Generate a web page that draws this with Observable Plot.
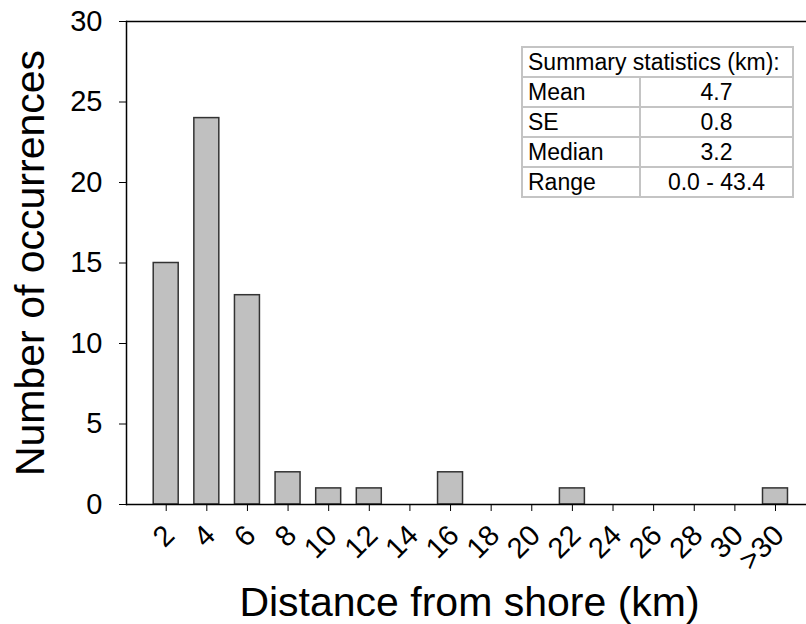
<!DOCTYPE html>
<html><head><meta charset="utf-8">
<script src="https://cdn.jsdelivr.net/npm/d3@7"></script>
<script src="https://cdn.jsdelivr.net/npm/@observablehq/plot@0.6"></script>
<style>
body{margin:0;background:#fff;font-family:"Liberation Sans",Arial,sans-serif;}
#wrap{position:relative;width:806px;height:624px;}
table.stats{position:absolute;left:521px;top:46px;border-collapse:collapse;font-size:23px;line-height:1;color:#000;background:#fff;}
table.stats td{border:2px solid #c4c4c4;padding:0 5px;vertical-align:middle;white-space:nowrap;}
table.stats tr{height:30px;}
table.stats td.lab{width:106px;text-align:left;}
table.stats td.val{width:141px;text-align:center;}
</style></head><body><div id="wrap"></div>
<script>
const categories = ["2","4","6","8","10","12","14","16","18","20","22","24","26","28","30",">30"];
const counts = [15,24,13,2,1,1,0,2,0,0,1,0,0,0,0,1];
const yTicks = [0,5,10,15,20,25,30];
const statTitle = "Summary statistics (km):";
const statLabels = ["Mean","SE","Median","Range"];
const statValues = ["4.7","0.8","3.2","0.0 - 43.4"];
const xTitle = "Distance from shore (km)";
const yTitle = "Number of occurrences";

const data = categories.map((c, i) => ({cat: c, n: counts[i]}));

const chart = Plot.plot({
  width: 806, height: 624,
  marginLeft: 126, marginRight: 0, marginTop: 21, marginBottom: 120,
  style: {fontFamily: "Liberation Sans, Arial, sans-serif", fontSize: "29px", color: "#000", background: "#fff", overflow: "visible"},
  x: {type: "band", domain: categories, range: [126, 814.7], paddingInner: 0.385, paddingOuter: 0.67, round: false,
      tickSize: 7, tickFormat: () => "", label: null},
  y: {domain: [0, 30], ticks: yTicks, tickSize: 7, tickPadding: 17, label: null},
  marks: [
    Plot.barY(data, {x: "cat", y: "n", fill: "#c0c0c0", stroke: "#333", strokeWidth: 1.5}),
    Plot.ruleY([0, 30], {stroke: "#000", strokeWidth: 1.5}),
    Plot.frame({anchor: "left", stroke: "#000", strokeWidth: 1.5}),
    Plot.text(categories, {x: d => d, frameAnchor: "bottom", rotate: -45, textAnchor: "end", lineAnchor: "middle", dx: 3.5, dy: 26, fontSize: 29}),
    Plot.text([yTitle], {frameAnchor: "left", rotate: -90, textAnchor: "middle", lineAnchor: "bottom", dx: -83, fontSize: 41}),
    Plot.text([xTitle], {frameAnchor: "bottom", textAnchor: "middle", lineAnchor: "bottom", dx: 3, dy: 111, fontSize: 41})
  ]
});
const wrap = document.getElementById("wrap");
wrap.appendChild(chart);

const table = d3.select(wrap).append("table").attr("class", "stats");
table.append("tr").append("td").attr("colspan", 2).style("text-align", "left").text(statTitle);
statLabels.forEach((l, i) => {
  const tr = table.append("tr");
  tr.append("td").attr("class", "lab").text(l);
  tr.append("td").attr("class", "val").text(statValues[i]);
});
</script>
</body></html>
